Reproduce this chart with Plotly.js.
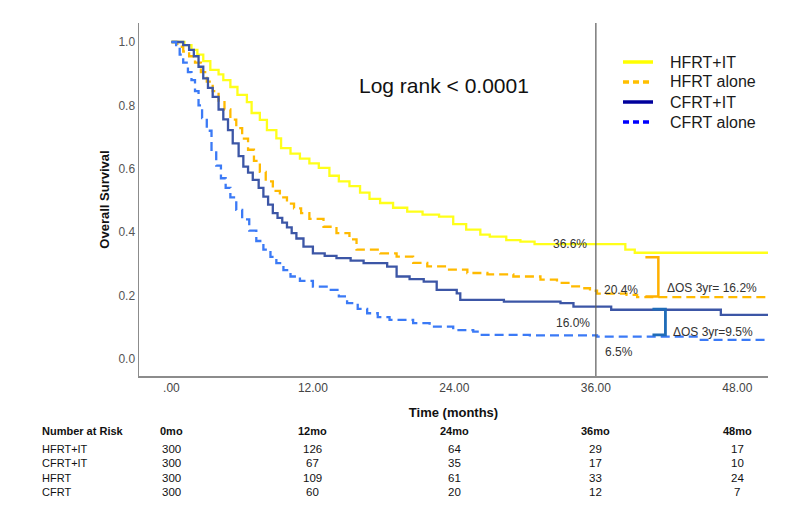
<!DOCTYPE html>
<html>
<head>
<meta charset="utf-8">
<script src="https://cdn.plot.ly/plotly-3.0.1.min.js"></script>
<style>html,body{margin:0;padding:0;background:#fff;}#chart{width:800px;height:524px;}</style>
</head>
<body>
<div id="chart"></div>
<script>
// ---- Kaplan-Meier curves (months, survival proportion) ----
const hfrtItT = [0,1.1,1.7,2.2,2.7,3.3,4.0,4.4,5.0,5.6,6.4,6.8,7.5,8.1,8.9,9.3,10.1,10.9,11.7,12.5,13.4,14.2,15.1,16.0,16.8,17.7,18.8,20.0,21.3,22.7,23.9,25.0,26.2,27.0,28.4,29.6,30.8,38.5,39.3,50.6];
const hfrtItS = [1.0,0.99,0.975,0.96,0.94,0.912,0.898,0.88,0.858,0.833,0.81,0.776,0.754,0.722,0.696,0.665,0.648,0.632,0.617,0.603,0.578,0.56,0.545,0.525,0.505,0.492,0.477,0.465,0.455,0.449,0.425,0.408,0.392,0.386,0.375,0.37,0.362,0.345,0.335,0.335];

const hfrtT = [0,0.5,1.0,1.5,2.0,2.5,3.0,3.5,4.0,4.5,5.0,5.5,6.0,6.5,7.0,7.5,8.0,8.6,9.2,9.8,10.4,11.0,11.7,12.9,14.0,15.1,15.7,17.7,19.1,20.5,21.7,23.4,25.1,26.8,29.0,31.3,32.7,33.8,34.7,35.5,36.1,38.6,39.5,50.6];
const hfrtS = [1.0,0.985,0.97,0.955,0.935,0.905,0.875,0.845,0.815,0.787,0.755,0.728,0.695,0.66,0.625,0.59,0.56,0.53,0.51,0.49,0.475,0.46,0.442,0.417,0.397,0.377,0.345,0.333,0.323,0.303,0.292,0.282,0.271,0.267,0.26,0.25,0.24,0.229,0.223,0.215,0.206,0.202,0.195,0.193];

const cfrtItT = [0,1.0,1.5,1.9,2.3,2.7,3.1,3.5,4.0,4.4,4.8,5.2,5.7,6.1,6.5,6.9,7.4,7.8,8.2,8.6,9.0,9.4,9.8,10.2,10.6,11.2,12.0,13.0,14.0,15.2,16.3,18.3,19.1,20.2,21.4,22.5,24.2,24.5,28.2,33.0,34.1,37.3,46.6,50.6];
const cfrtItS = [1.0,0.99,0.975,0.955,0.922,0.885,0.855,0.827,0.787,0.756,0.722,0.68,0.64,0.607,0.588,0.565,0.54,0.512,0.487,0.46,0.445,0.43,0.415,0.397,0.38,0.354,0.333,0.325,0.318,0.31,0.302,0.291,0.26,0.252,0.244,0.218,0.207,0.186,0.181,0.176,0.165,0.155,0.139,0.139];

const cfrtT = [0,0.4,0.7,1.0,1.4,1.7,2.0,2.3,2.6,3.0,3.4,3.8,4.2,4.6,5.0,5.5,6.0,6.6,7.2,7.8,8.4,8.9,9.5,10.1,10.9,12.0,13.4,14.2,14.9,15.8,16.6,17.5,18.5,20.5,21.9,23.9,25.6,26.2,30.4,36.1,44.9,50.6];
const cfrtS = [1.0,0.985,0.96,0.935,0.905,0.88,0.845,0.8,0.76,0.72,0.66,0.61,0.57,0.54,0.51,0.47,0.44,0.405,0.372,0.345,0.322,0.302,0.28,0.26,0.246,0.228,0.218,0.197,0.176,0.158,0.144,0.132,0.123,0.113,0.102,0.091,0.086,0.076,0.074,0.07,0.06,0.055];

const legendNames = ['HFRT+IT','HFRT alone','CFRT+IT','CFRT alone'];
const legendColors = ['#FFFF00','#FFBF00','#00009C','#0000FF'];
const legendDash = ['solid','6px,4px','solid','6px,4px'];

// ---- axis ticks ----
const xTickVals = [0,12,24,36,48];
const xTickText = ['.00','12.00','24.00','36.00','48.00'];
const yTickVals = [0,0.2,0.4,0.6,0.8,1.0];
const yTickText = ['0.0','0.2','0.4','0.6','0.8','1.0'];

// ---- number at risk table ----
const riskTimes = [0,12,24,36,48];
const riskHeaders = ['0mo','12mo','24mo','36mo','48mo'];
const riskGroups = ['HFRT+IT','CFRT+IT','HFRT','CFRT'];
const riskHfrtIt = [300,126,64,29,17];
const riskCfrtIt = [300,67,35,17,10];
const riskHfrt = [300,109,61,33,24];
const riskCfrt = [300,60,20,12,7];

// ---- 3-year labels ----
const pctLabels = ['36.6%','20.4%','16.0%','6.5%'];
const deltaLabels = ['\u0394OS 3yr= 16.2%','\u0394OS 3yr=9.5%'];
const logRankText = 'Log rank < 0.0001';

const curveW = 2.3;
const traces = [
  {x:hfrtItT,y:hfrtItS,name:legendNames[0],mode:'lines',line:{shape:'hv',color:'#FFFF1A',width:curveW},hoverinfo:'skip'},
  {x:hfrtT,y:hfrtS,name:legendNames[1],mode:'lines',line:{shape:'hv',color:'#FFBA00',width:curveW,dash:'9px,5px'},hoverinfo:'skip'},
  {x:cfrtItT,y:cfrtItS,name:legendNames[2],mode:'lines',line:{shape:'hv',color:'#3C56A6',width:curveW},hoverinfo:'skip'},
  {x:cfrtT,y:cfrtS,name:legendNames[3],mode:'lines',line:{shape:'hv',color:'#3B7AF6',width:curveW,dash:'9px,5px'},hoverinfo:'skip'}
];

const tblFont = {family:'Liberation Sans, Arial, sans-serif',size:11.5,color:'#111'};
const tblBold = {family:'Liberation Sans, Arial, sans-serif',size:11,color:'#111',weight:'bold'};
const rowY = [-0.2068,-0.2465,-0.2890,-0.3286];
const rowData = [riskHfrtIt,riskCfrtIt,riskHfrt,riskCfrt];

const annotations = [];
annotations.push({xref:'paper',yref:'paper',x:-0.1574,y:-0.1558,xanchor:'left',yanchor:'middle',text:'<b>Number at Risk</b>',showarrow:false,font:tblBold});
riskTimes.forEach((t,i)=>{
  annotations.push({xref:'x',yref:'paper',x:t,y:-0.1558,xanchor:'center',yanchor:'middle',text:'<b>'+riskHeaders[i]+'</b>',showarrow:false,font:tblBold});
});
riskGroups.forEach((g,r)=>{
  annotations.push({xref:'paper',yref:'paper',x:-0.1574,y:rowY[r],xanchor:'left',yanchor:'middle',text:g,showarrow:false,font:{family:'Liberation Sans, Arial, sans-serif',size:11,color:'#111'}});
  riskTimes.forEach((t,i)=>{
    annotations.push({xref:'x',yref:'paper',x:t,y:rowY[r],xanchor:'center',yanchor:'middle',text:String(rowData[r][i]),showarrow:false,font:tblFont});
  });
});
const pctFont = {family:'Liberation Sans, Arial, sans-serif',size:12,color:'#333'};
const pctPos = [[33.83,0.362],[38.16,0.218],[34.08,0.113],[37.99,0.021]];
pctLabels.forEach((p,i)=>{
  annotations.push({xref:'x',yref:'y',x:pctPos[i][0],y:pctPos[i][1],xanchor:'center',yanchor:'middle',text:p,showarrow:false,font:pctFont});
});
annotations.push({xref:'x',yref:'y',x:41.89,y:0.223,xanchor:'left',yanchor:'middle',text:deltaLabels[0],showarrow:false,font:pctFont});
annotations.push({xref:'x',yref:'y',x:42.4,y:0.086,xanchor:'left',yanchor:'middle',text:deltaLabels[1],showarrow:false,font:pctFont});
annotations.push({xref:'x',yref:'y',x:23.09,y:0.864,xanchor:'center',yanchor:'middle',text:logRankText,showarrow:false,font:{family:'Liberation Sans, Arial, sans-serif',size:21,color:'#111'}});

const shapes = [
  {type:'line',xref:'x',yref:'paper',x0:36,x1:36,y0:0,y1:1,line:{color:'#5a5a5a',width:1.2}},
  {type:'path',xref:'x',yref:'y',path:'M 40.2 0.321 L 41.3 0.321 L 41.3 0.197 L 40.2 0.197',line:{color:'#FFB000',width:2.5}},
  {type:'path',xref:'x',yref:'y',path:'M 40.8 0.157 L 41.9 0.157 L 41.9 0.076 L 40.8 0.076',line:{color:'#1F6CB8',width:2.8}}
];

// custom legend (keys + labels) in the upper right corner
const legY = [0.8895,0.8329,0.7762,0.7195];
legendNames.forEach((n,i)=>{
  shapes.push({type:'line',xref:'paper',yref:'paper',x0:0.7695,x1:0.8172,y0:legY[i],y1:legY[i],line:{color:legendColors[i],width:3.5,dash:legendDash[i]}});
  annotations.push({xref:'paper',yref:'paper',x:0.841,y:legY[i],xanchor:'left',yanchor:'middle',text:n,showarrow:false,font:{family:'Liberation Sans, Arial, sans-serif',size:16,color:'#1a1a1a'}});
});

const layout = {
  width:800,height:524,
  margin:{l:139,r:32,t:23,b:148},
  paper_bgcolor:'#ffffff',plot_bgcolor:'#ffffff',
  font:{family:'Liberation Sans, Arial, sans-serif',color:'#222'},
  showlegend:false,
  xaxis:{range:[-2.75,50.6],tickvals:xTickVals,ticktext:xTickText,showgrid:false,zeroline:false,showline:true,linecolor:'#8c8c8c',linewidth:1.5,ticks:'',
    tickfont:{family:'Liberation Sans Narrow, Arial Narrow, Liberation Sans, Arial, sans-serif',size:12,color:'#444'},
    title:{text:'<b>Time (months)</b>',font:{size:13,color:'#111'},standoff:14}},
  yaxis:{range:[-0.054,1.06],tickvals:yTickVals,ticktext:yTickText,showgrid:false,zeroline:false,showline:true,linecolor:'#8c8c8c',linewidth:1.5,ticks:'',
    tickfont:{size:12,color:'#555'},
    title:{text:'<b>Overall Survival</b>',font:{size:13,color:'#111'},standoff:6}},
  shapes:shapes,
  annotations:annotations
};

Plotly.newPlot('chart',traces,layout,{staticPlot:true,displayModeBar:false});
</script>
</body>
</html>
